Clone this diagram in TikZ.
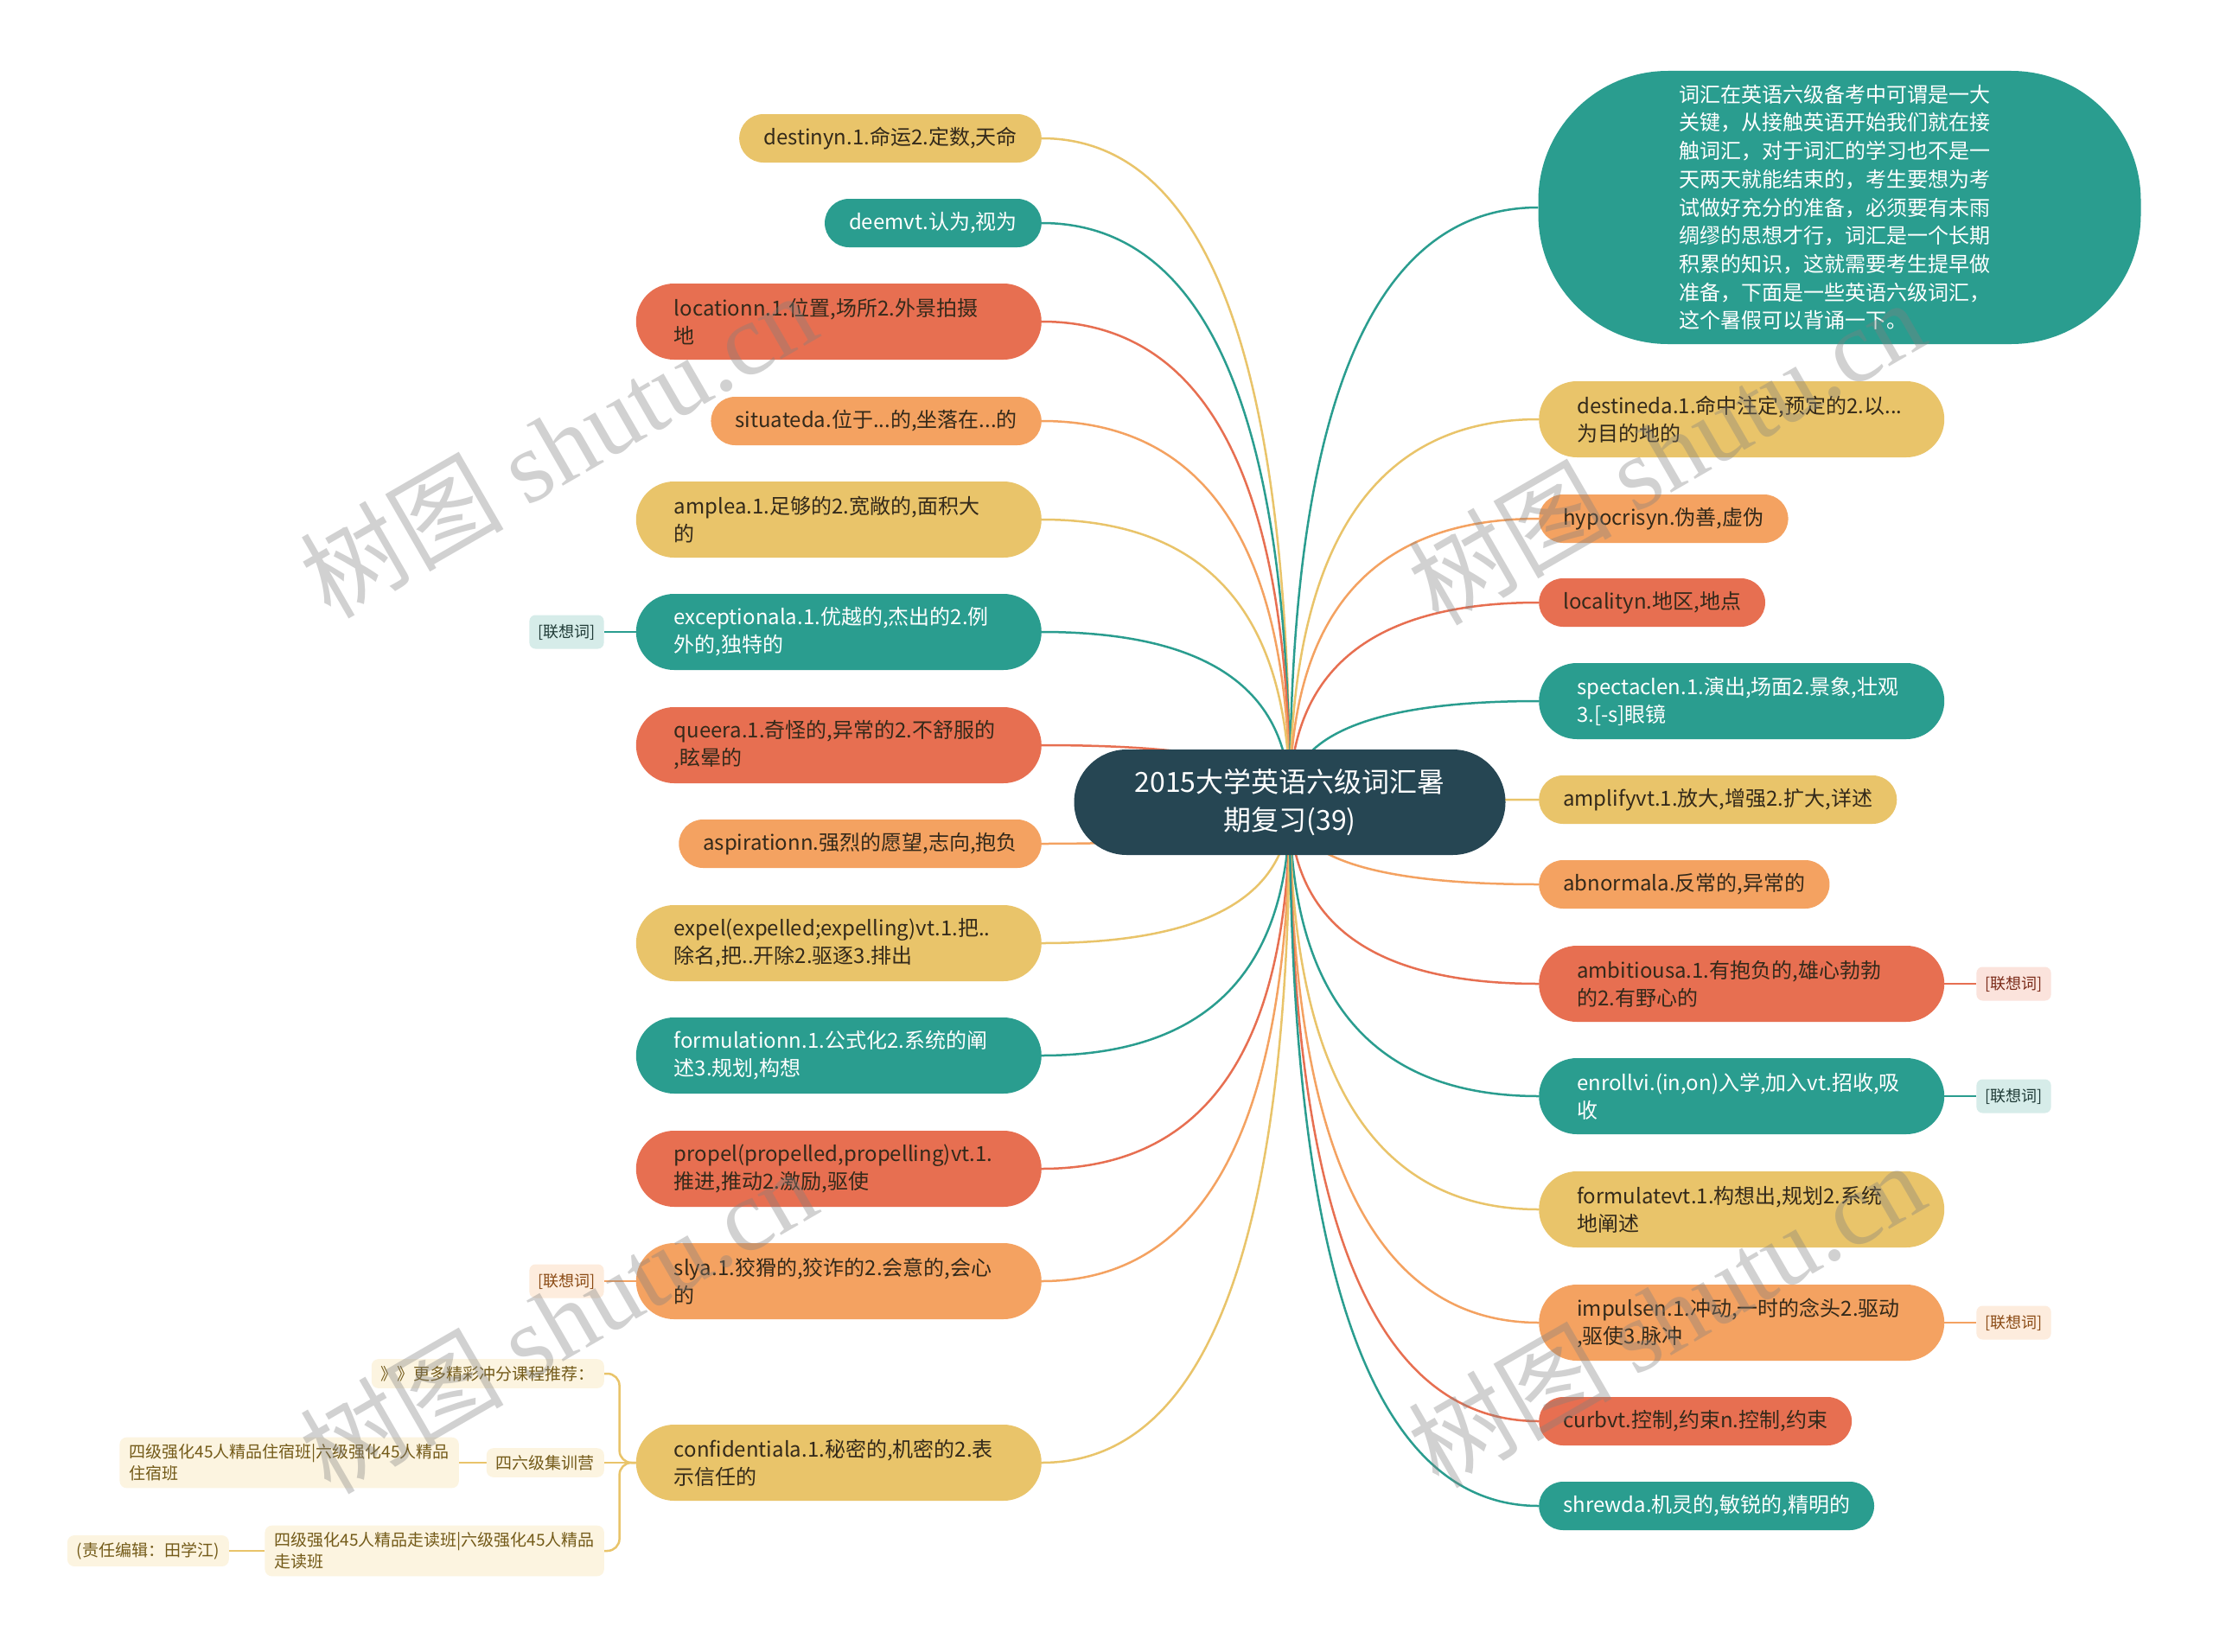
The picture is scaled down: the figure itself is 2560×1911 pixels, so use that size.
\documentclass[tikz,border=0pt]{standalone}
\usepackage{fontspec}
\setmainfont{Noto Sans CJK SC}
\newfontfamily\wmserif{Liberation Serif}
\usetikzlibrary{calc}
\definecolor{cteal}{HTML}{2A9D8F}
\definecolor{cyel}{HTML}{E9C46A}
\definecolor{corg}{HTML}{F4A261}
\definecolor{cred}{HTML}{E76F51}
\definecolor{cdark}{HTML}{264653}
\definecolor{ctxt}{HTML}{33291A}
\definecolor{tagteal}{HTML}{D6ECE9}
\definecolor{tagred}{HTML}{FBE3DC}
\definecolor{tagorg}{HTML}{FDECDD}
\definecolor{tagtealtxt}{HTML}{1F3A36}
\definecolor{tagredtxt}{HTML}{7A2A18}
\definecolor{tagorgtxt}{HTML}{8A4A14}
\definecolor{cream}{HTML}{FCF4E0}
\definecolor{creamtxt}{HTML}{735A18}
\pgfdeclarelayer{bg}
\pgfsetlayers{bg,main}
\newcommand\linkL[2]{\draw[link,#2] (ctr.center) .. controls ($(ctr.center)!0.667!(ctr.center|-#1.east)$) and ($(#1.east)!0.667!(ctr.center|-#1.east)$) .. (#1.east);}
\newcommand\linkR[2]{\draw[link,#2] (ctr.center) .. controls ($(ctr.center)!0.667!(ctr.center|-#1.west)$) and ($(#1.west)!0.667!(ctr.center|-#1.west)$) .. (#1.west);}
\begin{document}
\begin{tikzpicture}[x=1pt,y=-1pt,
  link/.style={line width=2.5pt},
  nbase/.style={rectangle, inner ysep=0pt, font=\fontsize{24}{32}\selectfont},
  onel/.style={nbase, minimum height=56pt, rounded corners=28pt, inner xsep=28pt},
  twol/.style={nbase, minimum height=88pt, rounded corners=44pt, inner xsep=44pt, text width=381pt, align=left},
  fy/.style={fill=cyel, text=ctxt},
  ft/.style={fill=cteal, text=white},
  fo/.style={fill=corg, text=ctxt},
  fr/.style={fill=cred, text=ctxt},
  lside/.style={anchor=east},
  rside/.style={anchor=west},
  tagbox/.style={rectangle, rounded corners=7pt, inner xsep=10pt, inner ysep=0pt, minimum height=39pt, font=\fontsize{18}{22}\selectfont},
  tt/.style={tagbox, fill=tagteal, text=tagtealtxt},
  tr/.style={tagbox, fill=tagred, text=tagredtxt},
  to/.style={tagbox, fill=tagorg, text=tagorgtxt},
  smallbox/.style={rectangle, rounded corners=8pt, fill=cream, text=creamtxt, inner xsep=11pt, inner ysep=8pt, align=left, font=\fontsize{19}{25}\selectfont, anchor=east},
  wm/.style={rotate=30, text=gray, opacity=0.36, font=\fontsize{118}{118}\selectfont}
]
\useasboundingbox (0,0) rectangle (2560,1911);
% center
\node[rectangle, fill=cdark, text=white, minimum width=499pt, minimum height=122pt, rounded corners=61pt, align=center, font=\fontsize{32}{44}\selectfont] (ctr) at (1492,928) {2015大学英语六级词汇暑\\期复习(39)};
% left nodes
\node[onel,fy,lside] (L1) at (1205,160) {destinyn.1.命运2.定数,天命};
\node[onel,ft,lside] (L2) at (1205,258) {deemvt.认为,视为};
\node[twol,fr,lside] (L3) at (1205,372) {locationn.1.位置,场所2.外景拍摄\\地};
\node[onel,fo,lside] (L4) at (1205,487) {situateda.位于...的,坐落在...的};
\node[twol,fy,lside] (L5) at (1205,601) {amplea.1.足够的2.宽敞的,面积大\\的};
\node[twol,ft,lside] (L6) at (1205,731) {exceptionala.1.优越的,杰出的2.例\\外的,独特的};
\node[twol,fr,lside] (L7) at (1205,862) {queera.1.奇怪的,异常的2.不舒服的\\,眩晕的};
\node[onel,fo,lside] (L8) at (1205,976) {aspirationn.强烈的愿望,志向,抱负};
\node[twol,fy,lside] (L9) at (1205,1091) {expel(expelled;expelling)vt.1.把..\\除名,把..开除2.驱逐3.排出};
\node[twol,ft,lside] (L10) at (1205,1221) {formulationn.1.公式化2.系统的阐\\述3.规划,构想};
\node[twol,fr,lside] (L11) at (1205,1352) {propel(propelled,propelling)vt.1.\\推进,推动2.激励,驱使};
\node[twol,fo,lside] (L12) at (1205,1482) {slya.1.狡猾的,狡诈的2.会意的,会心\\的};
\node[twol,fy,lside] (L13) at (1205,1692) {confidentiala.1.秘密的,机密的2.表\\示信任的};
% right nodes
\node[rectangle, fill=cteal, text=white, minimum width=697pt, minimum height=316pt, rounded corners=150pt, text width=372pt, align=left, font=\fontsize{24}{32.7}\selectfont] (R0) at (2128,240) {词汇在英语六级备考中可谓是一大\\关键，从接触英语开始我们就在接\\触词汇，对于词汇的学习也不是一\\天两天就能结束的，考生要想为考\\试做好充分的准备，必须要有未雨\\绸缪的思想才行，词汇是一个长期\\积累的知识，这就需要考生提早做\\准备，下面是一些英语六级词汇，\\这个暑假可以背诵一下。};
\node[twol,fy,rside] (R1) at (1780,485) {destineda.1.命中注定,预定的2.以...\\为目的地的};
\node[onel,fo,rside] (R2) at (1780,600) {hypocrisyn.伪善,虚伪};
\node[onel,fr,rside] (R3) at (1780,697) {localityn.地区,地点};
\node[twol,ft,rside] (R4) at (1780,811) {spectaclen.1.演出,场面2.景象,壮观\\3.[-s]眼镜};
\node[onel,fy,rside] (R5) at (1780,925) {amplifyvt.1.放大,增强2.扩大,详述};
\node[onel,fo,rside] (R6) at (1780,1023) {abnormala.反常的,异常的};
\node[twol,fr,rside] (R7) at (1780,1138) {ambitiousa.1.有抱负的,雄心勃勃\\的2.有野心的};
\node[twol,ft,rside] (R8) at (1780,1268) {enrollvi.(in,on)入学,加入vt.招收,吸\\收};
\node[twol,fy,rside] (R9) at (1780,1399) {formulatevt.1.构想出,规划2.系统\\地阐述};
\node[twol,fo,rside] (R10) at (1780,1530) {impulsen.1.冲动,一时的念头2.驱动\\,驱使3.脉冲};
\node[onel,fr,rside] (R11) at (1780,1644) {curbvt.控制,约束n.控制,约束};
\node[onel,ft,rside] (R12) at (1780,1742) {shrewda.机灵的,敏锐的,精明的};
% tags
\node[tt] (T1) at (655.5,731) {[联想词]};
\node[to] (T2) at (655.5,1482) {[联想词]};
\node[tr] (T3) at (2329.5,1138) {[联想词]};
\node[tt] (T4) at (2329.5,1268) {[联想词]};
\node[to] (T5) at (2329.5,1530) {[联想词]};
% bottom-left
\node[smallbox] (B1) at (699,1589) {》》更多精彩冲分课程推荐：};
\node[smallbox] (B2) at (699,1692) {四六级集训营};
\node[smallbox] (B3) at (531,1692) {四级强化45人精品住宿班|六级强化45人精品\\住宿班};
\node[smallbox] (B4) at (699,1794) {四级强化45人精品走读班|六级强化45人精品\\走读班};
\node[smallbox] (B5) at (265,1794) {(责任编辑：田学江)};
% connectors
\begin{pgfonlayer}{bg}
\fill[white] (0,0) rectangle (2560,1911);
\linkL{L1}{cyel}
\linkL{L2}{cteal}
\linkL{L3}{cred}
\linkL{L4}{corg}
\linkL{L5}{cyel}
\linkL{L6}{cteal}
\linkL{L7}{cred}
\linkL{L8}{corg}
\linkL{L9}{cyel}
\linkL{L10}{cteal}
\linkL{L11}{cred}
\linkL{L12}{corg}
\linkL{L13}{cyel}
\linkR{R0}{cteal}
\linkR{R1}{cyel}
\linkR{R2}{corg}
\linkR{R3}{cred}
\linkR{R4}{cteal}
\linkR{R5}{cyel}
\linkR{R6}{corg}
\linkR{R7}{cred}
\linkR{R8}{cteal}
\linkR{R9}{cyel}
\linkR{R10}{corg}
\linkR{R11}{cred}
\linkR{R12}{cteal}
\draw[link,cteal] (L6.west) -- (T1.east);
\draw[link,corg] (L12.west) -- (T2.east);
\draw[link,cred] (R7.east) -- (T3.west);
\draw[link,cteal] (R8.east) -- (T4.west);
\draw[link,corg] (R10.east) -- (T5.west);
\draw[link,cyel,rounded corners=14pt] (L13.west) -- ++(-19,0) |- (B1.east);
\draw[link,cyel] (L13.west) -- (B2.east);
\draw[link,cyel,rounded corners=14pt] (L13.west) -- ++(-19,0) |- (B4.east);
\draw[link,cyel] (B2.west) -- (B3.east);
\draw[link,cyel] (B4.west) -- (B5.east);
\end{pgfonlayer}
% watermarks
\node[wm] (W1) at (645,514) {树图 {\wmserif shutu.cn}};
\node[wm] (W2) at (1927,522) {树图 {\wmserif shutu.cn}};
\node[wm] (W3) at (645,1527) {树图 {\wmserif shutu.cn}};
\node[wm] (W4) at (1927,1520) {树图 {\wmserif shutu.cn}};
\end{tikzpicture}
\end{document}
